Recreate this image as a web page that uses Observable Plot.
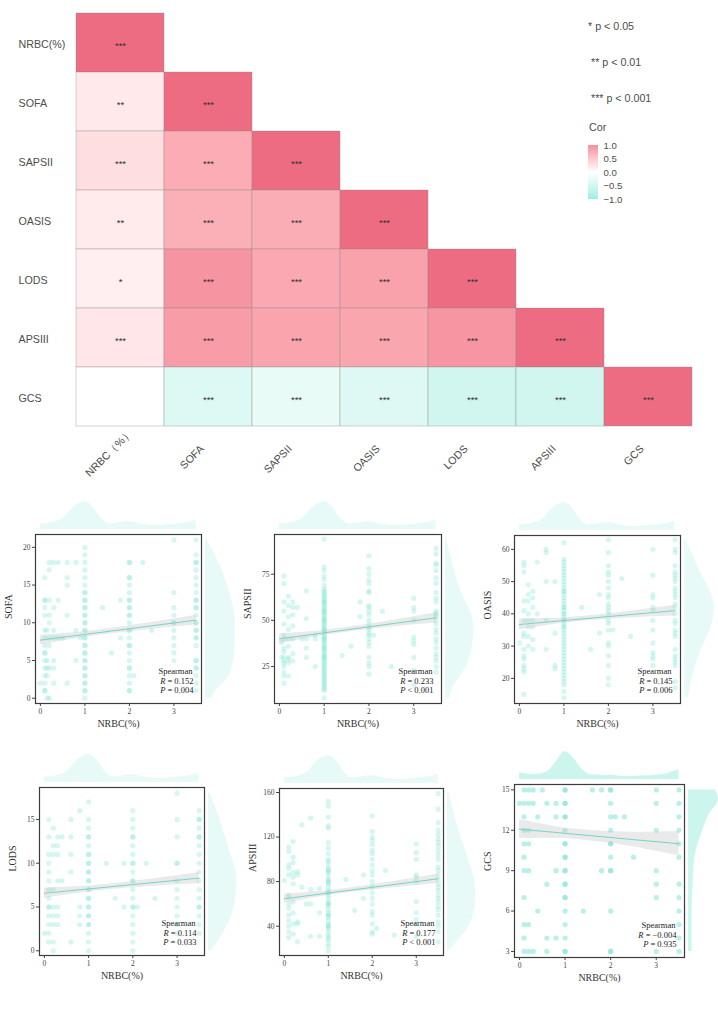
<!DOCTYPE html>
<html><head><meta charset="utf-8">
<script src="https://cdn.jsdelivr.net/npm/d3@7"></script>
<script src="https://cdn.jsdelivr.net/npm/@observablehq/plot@0.6"></script>
<style>
body{margin:0;background:#fff;}
#root{position:relative;width:718px;height:1015px;overflow:hidden;}
#root svg, #root div{position:absolute;}
.lg{font-family:'Liberation Sans',Arial,sans-serif;font-size:10.7px;color:#4d4d4d;white-space:nowrap;line-height:1;}
</style></head><body><div id="root"></div>
<script>
// ---------- correlation heatmap data ----------
const vars = ["NRBC(%)","SOFA","SAPSII","OASIS","LODS","APSIII","GCS"];
const xLabels = ["NRBC（%）","SOFA","SAPSII","OASIS","LODS","APSIII","GCS"];
const corRows = [
  [1],
  [0.152, 1],
  [0.233, 0.58, 1],
  [0.145, 0.56, 0.57, 1],
  [0.114, 0.74, 0.60, 0.65, 1],
  [0.177, 0.68, 0.63, 0.62, 0.73, 1],
  [-0.004, -0.30, -0.20, -0.28, -0.40, -0.40, 1]
];
const sigRows = [
  ["***"],
  ["**","***"],
  ["***","***","***"],
  ["**","***","***","***"],
  ["*","***","***","***","***"],
  ["***","***","***","***","***","***"],
  ["","***","***","***","***","***","***"]
];
const pLegend = ["* p < 0.05","** p < 0.01","*** p < 0.001"];
const corTicks = [-1,-0.5,0,0.5,1];

// ---------- scatter data ----------
const xDomain = [-0.11, 3.62];
const xTicks = [0,1,2,3];
const xTitle = "NRBC(%)";
const fitXs = [0, 0.6, 1.2, 2.3, 3.5];
const topDensX = [0,0.3,0.5,0.75,1.0,1.2,1.35,1.55,1.85,2.0,2.3,2.6,2.9,3.2,3.5];
const topDensH = [0.2,0.26,0.38,0.8,1.0,0.78,0.44,0.2,0.26,0.29,0.18,0.14,0.18,0.22,0.32];
const gcsTopDensX = [0,0.3,0.6,0.82,1.0,1.2,1.38,1.6,2.0,2.34,2.78,3.2,3.5];
const gcsTopDensH = [0.24,0.18,0.27,0.67,1.0,0.73,0.35,0.16,0.15,0.1,0.13,0.2,0.35];

// SOFA
const sofaCols = [0,0.1,0.15,0.2,0.3,0.4,0.5,0.6,0.8,0.9,1,1.4,1.6,1.8,2,2.1,2.3,2.5,3,3.5];
const sofaVals = [
  [2],
  [16,13,13,12,11,9,8,7,6,6,5,4,3,2,1,1],
  [9,5,4,3,0],
  [18,17,13,11,10,8,7,4,0],
  [18,12,9,8,5,4,2],
  [18,13,8],
  [8],
  [18,16,15,11,2],
  [18,9,5],
  [8],
  [20,19,18,17,16,15,14,14,13,13,12,12,11,11,10,10,9,9,8,8,7,7,6,6,5,5,4,4,3,3,2,2,1,1,0],
  [12],[6],[13,8],
  [18,18,16,16,15,14,13,13,12,12,11,11,10,9,9,8,7,7,6,5,4,4,3,2,1,1],
  [3],[18],[9],
  [21,14,12,11,10,10,9,8,7,6,5],
  [21,19,18,18,17,16,15,14,13,13,12,12,11,10,10,9,9,8,8,7,5,5,4,4,3,2,1]
];
const sofaDomain = [-0.7, 21.7];
const sofaTicks = [0,5,10,15,20];
const sofaFit = [7.70, 8.15, 8.61, 9.44, 10.35];
const sofaBand = [0.65, 0.45, 0.35, 0.42, 0.65];
const sofaDensY = [0, 0.5, 3, 6.5, 10, 14, 17.5, 21];
const sofaDensW = [0.25, 0.27, 0.8, 0.98, 1.0, 0.8, 0.5, 0.05];

// SAPSII
const sapsCols = [0.05,0.1,0.2,0.3,0.4,0.5,0.6,0.8,1,1.4,1.6,1.8,2,2.1,2.3,2.5,3,3.5];
const sapsVals = [
  [38,30],
  [74,70,60,55,48,42,40,35,33,30,28,27,25,22,20,16],
  [63,58,52,45,40,36,30,29,27,20],
  [60,57,53,47,40,32,28],
  [57],[40],
  [66,51,40,35,30],
  [42,40,25],
  [94,79,77,74,72,69,67,66,65,64,63,62,61,60,60,59,58,57,56,55,55,54,53,52,51,50,50,49,48,47,46,45,45,44,43,42,41,40,40,39,38,37,36,35,35,34,33,32,31,30,30,29,28,27,26,25,24,23,22,21,20,19,18,17,16,15,14,13,12,8],
  [31],[36],[60,52],
  [85,78,75,72,70,66,65,58,57,55,53,50,48,46,45,43,42,40,38,36,30,27,25,21],
  [42],[55],[25],
  [62,57,55,50,41,39,37,30,23,15],
  [89,86,81,80,77,73,70,65,62,60,55,54,53,52,50,48,45,43,40,38,35,32,30,28,25,22]
];
const sapsDomain = [5.0, 96.5];
const sapsTicks = [25,50,75];
const sapsFit = [40.0, 41.95, 43.9, 47.5, 51.4];
const sapsBand = [2.6, 1.8, 1.3, 1.6, 2.8];
const sapsDensY = [8, 12, 20, 25, 35, 45, 54, 64, 77, 95];
const sapsDensW = [0.15, 0.2, 0.5, 0.7, 0.88, 0.95, 0.85, 0.55, 0.3, 0.03];

// OASIS
const oasisCols = [0,0.1,0.2,0.3,0.4,0.6,0.8,1,1.4,1.6,1.8,2,2.1,2.3,2.5,3,3.5];
const oasisVals = [
  [31],
  [56,55,53,44,41,38,34,33,29,27,26,24,23,22,15],
  [49,46,44,40,38,36,33,30],
  [47,45,42,38,36,32,29],
  [56,40],
  [60,59,50,38,29],
  [50,34,24,23],
  [62,57,56,55,54,53,52,51,50,49,48,47,47,46,45,44,43,42,42,41,40,40,39,38,38,37,36,36,35,34,33,32,31,30,29,28,27,26,25,24,23,22,21,20,19,18,16,14],
  [42],[29],[46,34],
  [63,59,55,53,52,50,48,46,45,43,42,41,40,38,37,35,31,30,27,24,20,18],
  [35],[51],[33],
  [60,52,46,45,42,41,38,35,31,28,27,26,24],
  [63,60,59,55,53,52,51,50,48,47,46,45,43,42,40,38,37,35,34,33,29,27,26,25,24,19,17]
];
const oasisDomain = [12.2, 64.3];
const oasisTicks = [20,30,40,50,60];
const oasisFit = [36.7, 37.44, 38.17, 39.53, 41.0];
const oasisBand = [1.6, 1.1, 0.8, 1.0, 1.7];
const oasisDensY = [14, 15, 20, 27.5, 35.7, 42, 46, 53.5, 63];
const oasisDensW = [0.12, 0.15, 0.25, 0.5, 0.88, 1.0, 0.9, 0.5, 0.05];

// LODS
const lodsCols = [0,0.1,0.2,0.3,0.4,0.6,0.8,1,1.4,1.6,1.8,2,2.1,2.3,2.5,3,3.5];
const lodsVals = [
  [2],
  [15,13,11,10,9,8,7,6,5,5,4,3,2,1],
  [14,12,11,7,5,4,3,1,0],
  [13,12,11,8,5,4,3],
  [13,8],
  [15,13,11,9,1],
  [16,5,4,3],
  [17,15,14,13,13,12,11,11,10,10,9,9,8,8,7,7,6,6,5,5,4,4,3,3,2,1,0],
  [10],[6],[10,5],
  [16,15,14,13,13,12,11,10,10,9,8,8,7,6,5,5,4,3,2,1,0],
  [5],[10],[6],
  [18,15,13,10,10,8,7,6,5,4,3,2],
  [16,15,15,14,13,13,12,11,10,9,8,7,6,5,5,4,3,2]
];
const lodsDomain = [-0.54, 18.65];
const lodsTicks = [0,5,10,15];
const lodsFit = [6.57, 6.87, 7.16, 7.71, 8.3];
const lodsBand = [0.6, 0.42, 0.32, 0.4, 0.65];
const lodsDensY = [0, 2.7, 5.7, 8.4, 11.4, 15.3, 18];
const lodsDensW = [0.1, 0.6, 0.9, 0.95, 0.7, 0.35, 0.05];

// APSIII
const apsCols = [0,0.1,0.2,0.3,0.4,0.5,0.6,0.8,1,1.4,1.6,1.8,2,2.1,2.3,2.5,3,3.5];
const apsVals = [
  [81],
  [111,107,95,92,86,68,66,60,56,50,45,40,35,30],
  [116,102,97,88,84,78,62,52,42,33],
  [89,86,44,42,26],
  [131,75],[60],
  [137,73,60,31],
  [74,52,31],
  [152,148,138,130,128,115,110,105,100,98,95,92,90,90,88,85,82,80,80,78,75,72,70,70,68,65,62,60,60,58,55,52,50,50,48,45,42,40,40,38,35,32,30,28,25,22,18],
  [82],[54],[86,65],
  [139,125,120,117,113,108,105,100,95,90,86,80,75,70,65,60,53,50,42,35,33],
  [38],[90],[32],
  [114,106,100,86,84,80,62,52,46,42,31],
  [159,145,133,126,122,118,115,112,108,104,100,93,90,86,82,78,75,72,68,65,62,58,55,50,44,40,35,26]
];
const apsDomain = [13.7, 163.6];
const apsTicks = [40,80,120,160];
const apsFit = [64.6, 67.7, 70.8, 76.4, 82.6];
const apsBand = [4.0, 2.8, 2.1, 2.6, 4.2];
const apsDensY = [18, 42, 64, 82, 100, 124, 160];
const apsDensW = [0.05, 0.75, 0.95, 0.9, 0.7, 0.4, 0.05];

// GCS
const gcsCols = [0,0.1,0.2,0.3,0.4,0.5,0.6,0.8,1,1.4,1.6,1.8,2,2.1,2.3,2.5,3,3.5];
const gcsVals = [
  [14],
  [15,14,13,12,11,10,9,7,5,4,3],
  [15,14,12,11,9,5,3],
  [15,14,3],
  [13,6],[15],
  [14,8,4,3],
  [14,13,9,4],
  [15,15,14,14,13,13,12,11,11,10,10,9,9,8,8,7,7,6,5,4,3,3],
  [6],[15],[15,9],
  [15,15,14,13,12,11,11,10,9,9,6,3,3],
  [13],[13],[10],
  [15,14,12,9,8,7,3],
  [15,14,13,12,11,10,8,7,6,5,4,3]
];
const gcsDomain = [2.55, 15.4];
const gcsTicks = [3,6,9,12,15];
const gcsFit = [12.08, 11.9, 11.71, 11.37, 11.0];
const gcsBand = [0.7, 0.5, 0.38, 0.5, 0.9];
const gcsDensY = [3, 4, 6, 8, 9.8, 11.5, 13.2, 14.3, 15];
const gcsDensW = [0.12, 0.12, 0.12, 0.15, 0.2, 0.4, 0.7, 1.0, 0.9];

const spearmanR = ["= 0.152","= 0.233","= 0.145","= 0.114","= 0.177","= −0.004"];
const spearmanP = ["= 0.004","< 0.001","= 0.006","= 0.033","< 0.001","= 0.935"];

// ---------- styling / layout ----------
const root = document.getElementById("root");
const colorScale = {type:"linear", domain:[-1,0,1], range:["#7FE8D8","#FFFFFF","#EE6C82"], interpolate:"lab"};
const pointColor = "#7FE5D5", densColor = "#7FE5D5", lineColor = "#74D6C9";
function place(el, left, top){ el.style.left = left + "px"; el.style.top = top + "px"; root.appendChild(el); return el; }

// heatmap
const cells = corRows.flatMap((row, i) => row.map((r, j) => ({row: vars[i], col: vars[j], r, sig: sigRows[i][j]})));
const labelFont = {fontSize: 10.7, fill: "#4d4d4d"};
const heat = Plot.plot({
  width: 718, height: 505,
  marginLeft: 75, marginRight: 25, marginTop: 12, marginBottom: 78,
  style: {fontFamily: "'Liberation Sans', Arial, sans-serif", background: "transparent"},
  x: {domain: vars, padding: 0, axis: null},
  y: {domain: vars, padding: 0, axis: null},
  color: colorScale,
  marks: [
    Plot.cell(cells, {x: "col", y: "row", fill: "r", stroke: "#8a8a8a", strokeWidth: 0.6, strokeOpacity: 0.6}),
    Plot.text(cells, {x: "col", y: "row", text: "sig", fontSize: 9.5, fill: "#333", dy: 3}),
    Plot.text(vars, {y: d => d, frameAnchor: "left", dx: -57, dy: 2, textAnchor: "start", ...labelFont}),
    Plot.text(vars.slice(0, 1), {x: d => d, text: (d, i) => xLabels[i], frameAnchor: "bottom", dy: 6, dx: 13, rotate: -45, textAnchor: "end", ...labelFont}),
    Plot.text(vars.slice(1), {x: d => d, text: (d, i) => xLabels[i + 1], frameAnchor: "bottom", dy: 22, dx: -4, rotate: -45, textAnchor: "end", ...labelFont})
  ]
});
place(heat, 0, 0);

// legend texts
const lgPos = [[588, 21], [591, 57], [591, 93]];
pLegend.forEach((t, i) => { const d = document.createElement("div"); d.className = "lg"; d.textContent = t; place(d, lgPos[i][0], lgPos[i][1]); });
const corTitle = document.createElement("div"); corTitle.className = "lg"; corTitle.textContent = "Cor"; place(corTitle, 589, 122);
const steps = d3.range(-1, 1, 0.02);
const cbar = Plot.plot({
  width: 55, height: 70, marginLeft: 0, marginRight: 45, marginTop: 4, marginBottom: 12,
  style: {fontFamily: "'Liberation Sans', Arial, sans-serif", fontSize: "9.6px", color: "#4d4d4d", background: "transparent"},
  x: {axis: null},
  y: {domain: [-1, 1], ticks: corTicks, tickFormat: ".1f", tickSize: 0, tickPadding: 5, axis: "right", label: null},
  color: colorScale,
  marks: [Plot.rect(steps, {y1: d => d, y2: d => d + 0.021, fill: d => d + 0.01})]
});
place(cbar, 588, 141);

// scatter panels
const panels = [
  {name: "SOFA",   cols: sofaCols,  vals: sofaVals,  dom: sofaDomain,  ticks: sofaTicks,  fit: sofaFit,  band: sofaBand,  dy: sofaDensY,  dw: sofaDensW,  tx: topDensX, th: topDensH},
  {name: "SAPSII", cols: sapsCols,  vals: sapsVals,  dom: sapsDomain,  ticks: sapsTicks,  fit: sapsFit,  band: sapsBand,  dy: sapsDensY,  dw: sapsDensW,  tx: topDensX, th: topDensH},
  {name: "OASIS",  cols: oasisCols, vals: oasisVals, dom: oasisDomain, ticks: oasisTicks, fit: oasisFit, band: oasisBand, dy: oasisDensY, dw: oasisDensW, tx: topDensX, th: topDensH},
  {name: "LODS",   cols: lodsCols,  vals: lodsVals,  dom: lodsDomain,  ticks: lodsTicks,  fit: lodsFit,  band: lodsBand,  dy: lodsDensY,  dw: lodsDensW,  tx: topDensX, th: topDensH},
  {name: "APSIII", cols: apsCols,   vals: apsVals,   dom: apsDomain,   ticks: apsTicks,   fit: apsFit,   band: apsBand,   dy: apsDensY,   dw: apsDensW,   tx: topDensX, th: topDensH},
  {name: "GCS",    cols: gcsCols,   vals: gcsVals,   dom: gcsDomain,   ticks: gcsTicks,   fit: gcsFit,   band: gcsBand,   dy: gcsDensY,   dw: gcsDensW,   tx: gcsTopDensX, th: gcsTopDensH}
];
const boxes = [
  {l: 35, t: 534, w: 166, h: 169}, {l: 274, t: 534, w: 167, h: 169}, {l: 514, t: 535, w: 166, h: 168},
  {l: 39, t: 787, w: 165, h: 168}, {l: 279, t: 788, w: 164, h: 167}, {l: 514, t: 784, w: 170, h: 173}
];
const ptOpacity = [0.32, 0.32, 0.32, 0.32, 0.32, 0.55];
const densOpacity = [0.18, 0.18, 0.18, 0.18, 0.18, 0.4];

const mL = 36, mR = 4, mT = 4, mB = 36;
panels.forEach((p, k) => {
  const B = boxes[k];
  const pts = p.cols.flatMap((x, i) => p.vals[i].map(y => ({x, y})));
  const fitData = fitXs.map((x, i) => ({x, y: p.fit[i], lo: p.fit[i] - p.band[i], hi: p.fit[i] + p.band[i]}));
  const main = Plot.plot({
    width: B.w + mL + mR, height: B.h + mT + mB,
    marginLeft: mL, marginRight: mR, marginTop: mT, marginBottom: mB,
    style: {fontFamily: "'Liberation Serif', 'Times New Roman', serif", fontSize: "7.5px", color: "#444", background: "transparent"},
    x: {domain: xDomain, ticks: xTicks, tickSize: 3, tickPadding: 2, label: null, tickFormat: d => d},
    y: {domain: p.dom, ticks: p.ticks, tickSize: 3, tickPadding: 2, label: null},
    marks: [
      Plot.dot(pts, {x: "x", y: "y", r: 2.6, fill: pointColor, fillOpacity: ptOpacity[k]}),
      Plot.areaY(fitData, {x: "x", y1: "lo", y2: "hi", fill: "#c4c4c4", fillOpacity: 0.35, curve: "natural"}),
      Plot.line(fitData, {x: "x", y: "y", stroke: lineColor, strokeWidth: 1}),
      Plot.frame({stroke: "#3c3c3c", strokeWidth: 1.2}),
      Plot.text(["Spearman"], {frameAnchor: "bottom-right", dx: -9, dy: -30, textAnchor: "end", fontSize: 8.5, fill: "#222"}),
      Plot.text(["R " + spearmanR[k]], {frameAnchor: "bottom-right", dx: -8, dy: -20, textAnchor: "end", fontSize: 8.5, fill: "#222"}),
      Plot.text(["P " + spearmanP[k]], {frameAnchor: "bottom-right", dx: -8, dy: -11, textAnchor: "end", fontSize: 8.5, fill: "#222"}),
      Plot.text([xTitle], {frameAnchor: "bottom", dy: 23, fontSize: 10, fill: "#333"}),
      Plot.text([p.name], {frameAnchor: "left", dx: -27, rotate: -90, fontSize: 10, fill: "#333"})
    ]
  });
  d3.select(main).selectAll("text").each(function() {
    const m = /^([RP]) ([=<].*)$/.exec(this.textContent);
    if (m) {
      this.textContent = "";
      d3.select(this).append("tspan").attr("font-style", "italic").text(m[1]);
      d3.select(this).append("tspan").text(" " + m[2]);
    }
  });
  place(main, B.l - mL, B.t - mT);

  const topData = p.tx.map((x, i) => ({x, h: p.th[i]}));
  const top = Plot.plot({
    width: B.w + mL + mR, height: 28, marginLeft: mL, marginRight: mR, marginTop: 0, marginBottom: 0,
    style: {background: "transparent"},
    x: {domain: xDomain, axis: null}, y: {domain: [0, 1], axis: null},
    marks: [Plot.areaY(topData, {x: "x", y: "h", fill: densColor, fillOpacity: densOpacity[k], curve: "monotone-x"})]
  });
  place(top, B.l - mL, B.t - 5 - 28);

  const rData = p.dy.map((y, i) => ({y, w: p.dw[i]}));
  const right = Plot.plot({
    width: 30, height: B.h + mT + mB, marginLeft: 0, marginRight: 0, marginTop: mT, marginBottom: mB,
    style: {background: "transparent"},
    x: {domain: [0, 1], axis: null}, y: {domain: p.dom, axis: null},
    marks: [Plot.areaX(rData, {y: "y", x: "w", fill: densColor, fillOpacity: densOpacity[k], curve: "monotone-y"})]
  });
  place(right, B.l + B.w + 4, B.t - mT);
});
</script></body></html>
